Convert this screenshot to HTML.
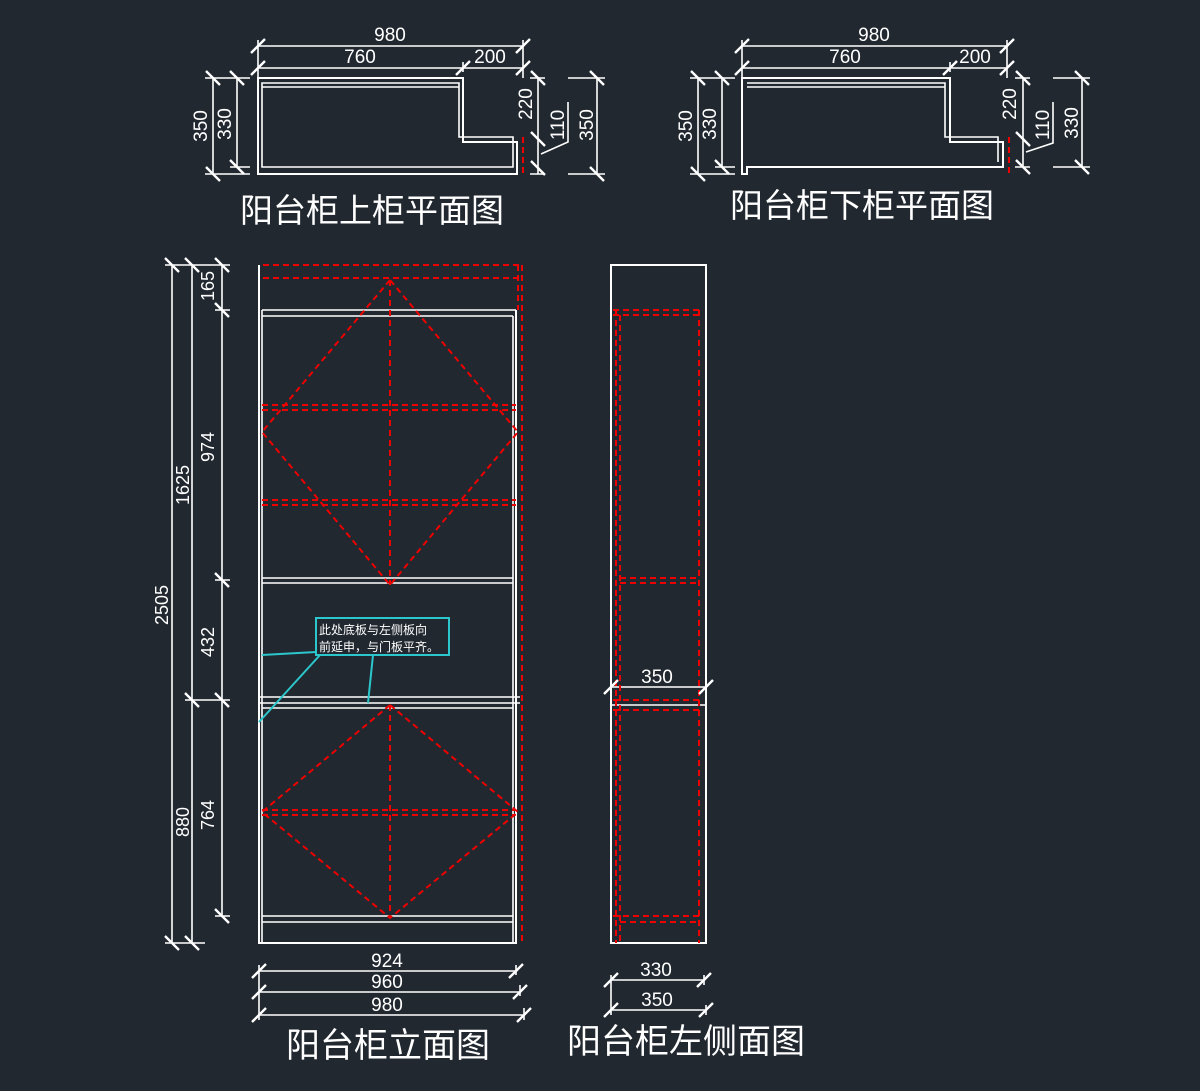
<!DOCTYPE html>
<html><head><meta charset="utf-8"><style>
html,body{margin:0;padding:0;background:#212830;}
svg{display:block}
text{font-family:"Liberation Sans","Noto Sans CJK SC",sans-serif;fill:#fff}
.w{stroke:#fff;stroke-width:2;fill:none}
.t{stroke:#fff;stroke-width:1.6;fill:none}
.k{stroke:#fff;stroke-width:2.4;fill:none}
.r{stroke:#e00;stroke-width:2;fill:none;stroke-dasharray:6 4}
.c{stroke:#2cc7cc;stroke-width:2;fill:none}
</style></head><body>
<svg width="1200" height="1091" viewBox="0 0 1200 1091">
<!-- ========== Top plan 1 ========== -->
<g>
<path class="w" d="M258 78H463V142H517V174H258Z"/>
<path class="t" d="M262 83H459V137H513V167H262Z M262 87H459"/>
<line class="r" x1="523" y1="137" x2="523" y2="174"/>
<path class="t" d="M258 46H523 M258 68H463 M463 68H523 M258 40V78 M523 40V78 M463 62V72"/>
<path class="k" d="M251 53L265 39 M516 53L530 39 M251 75L265 61 M456 75L470 61 M516 75L530 61"/>
<text x="390" y="41" font-size="19" text-anchor="middle">980</text>
<text x="360" y="63" font-size="19" text-anchor="middle">760</text>
<text x="490" y="63" font-size="19" text-anchor="middle">200</text>
<path class="t" d="M205 78H250 M205 174H250 M213 78V174 M237 78V167 M230 167H250"/>
<path class="k" d="M206 71L220 85 M206 167L220 181 M230 71L244 85 M230 160L244 174"/>
<text transform="translate(207,126) rotate(-90)" font-size="19" text-anchor="middle">350</text>
<text transform="translate(231,124) rotate(-90)" font-size="19" text-anchor="middle">330</text>
<path class="t" d="M530 78H545 M530 174H545 M538 78V174"/>
<path class="k" d="M531 71L545 85 M531 132L545 146 M531 161L545 175"/>
<path class="t" d="M568 78H605 M568 174H605 M597 78V174"/>
<path class="k" d="M590 71L604 85 M590 167L604 181"/>
<path class="t" d="M541 154L568 142V102"/>
<text transform="translate(532,104) rotate(-90)" font-size="19" text-anchor="middle">220</text>
<text transform="translate(564,125) rotate(-90)" font-size="19" text-anchor="middle">110</text>
<text transform="translate(593,125) rotate(-90)" font-size="19" text-anchor="middle">350</text>
<text x="372" y="222" font-size="33" text-anchor="middle">阳台柜上柜平面图</text>
</g>
<!-- ========== Top plan 2 ========== -->
<g>
<path class="w" d="M742 78H950V142H1003V167H747V174H742Z"/>
<path class="t" d="M747 83H945V137H998V162 M747 87H945"/>
<line class="r" x1="1009" y1="137" x2="1009" y2="174"/>
<path class="t" d="M742 46H1007 M742 68H950 M950 68H1007 M742 40V78 M1007 40V78 M950 62V72"/>
<path class="k" d="M735 53L749 39 M1000 53L1014 39 M735 75L749 61 M943 75L957 61 M1000 75L1014 61"/>
<text x="874" y="41" font-size="19" text-anchor="middle">980</text>
<text x="845" y="63" font-size="19" text-anchor="middle">760</text>
<text x="975" y="63" font-size="19" text-anchor="middle">200</text>
<path class="t" d="M690 78H735 M690 174H735 M698 78V174 M722 78V167 M715 167H735"/>
<path class="k" d="M691 71L705 85 M691 167L705 181 M715 71L729 85 M715 160L729 174"/>
<text transform="translate(692,126) rotate(-90)" font-size="19" text-anchor="middle">350</text>
<text transform="translate(716,124) rotate(-90)" font-size="19" text-anchor="middle">330</text>
<path class="t" d="M1015 78H1030 M1015 167H1030 M1023 78V167"/>
<path class="k" d="M1016 71L1030 85 M1016 132L1030 146 M1016 160L1030 174"/>
<path class="t" d="M1053 78H1090 M1053 167H1090 M1082 78V167"/>
<path class="k" d="M1075 71L1089 85 M1075 160L1089 174"/>
<path class="t" d="M1026 152L1053 143V102"/>
<text transform="translate(1016,104) rotate(-90)" font-size="19" text-anchor="middle">220</text>
<text transform="translate(1049,125) rotate(-90)" font-size="19" text-anchor="middle">110</text>
<text transform="translate(1078,123) rotate(-90)" font-size="19" text-anchor="middle">330</text>
<text x="862" y="217" font-size="33" text-anchor="middle">阳台柜下柜平面图</text>
</g>
<!-- ========== Elevation ========== -->
<g>
<path class="w" d="M259 265V943H516V310"/>
<path class="t" d="M262 310V943 M513 316V943"/>
<path class="t" d="M262 310H516 M262 316H513 M262 578H513 M262 583H513 M259 697H520 M259 703H520 M262 708H513 M262 916H513 M262 922H513"/>
<path class="r" d="M263 265H519 M263 278H519 M518 265V310 M522 265V943"/>
<path class="r" d="M390 280L262 432L390 585L518 432Z M390 280V585 M262 405H516 M262 410H516 M262 500H516 M262 505H516"/>
<path class="r" d="M390 705L262 812L390 918L518 812Z M390 705V918 M262 810H516 M262 815H516"/>
<path class="t" d="M165 265H230 M165 943H205 M172 265V943 M192 265V943 M222 265V916 M185 700H230 M215 310H230 M215 580H230 M215 916H230"/>
<path class="k" d="M165 258L179 272 M165 936L179 950 M185 258L199 272 M185 693L199 707 M185 936L199 950 M215 258L229 272 M215 303L229 317 M215 573L229 587 M215 693L229 707 M215 909L229 923"/>
<text transform="translate(168,605) rotate(-90)" font-size="18" text-anchor="middle">2505</text>
<text transform="translate(189,485) rotate(-90)" font-size="18" text-anchor="middle">1625</text>
<text transform="translate(189,822) rotate(-90)" font-size="18" text-anchor="middle">880</text>
<text transform="translate(214,286) rotate(-90)" font-size="18" text-anchor="middle">165</text>
<text transform="translate(214,447) rotate(-90)" font-size="18" text-anchor="middle">974</text>
<text transform="translate(214,642) rotate(-90)" font-size="18" text-anchor="middle">432</text>
<text transform="translate(214,815) rotate(-90)" font-size="18" text-anchor="middle">764</text>
<path class="t" d="M259 971H516 M259 992H520 M259 1015H524 M259 965V1020 M516 965V975 M520 985V996 M524 1008V1020"/>
<path class="k" d="M252 978L266 964 M509 978L523 964 M252 999L266 985 M513 999L527 985 M252 1022L266 1008 M517 1022L531 1008"/>
<text x="387" y="967" font-size="19" text-anchor="middle">924</text>
<text x="387" y="988" font-size="19" text-anchor="middle">960</text>
<text x="387" y="1011" font-size="19" text-anchor="middle">980</text>
<rect class="c" x="316" y="618" width="133" height="37"/>
<text x="319" y="634" font-size="12">此处底板与左侧板向</text>
<text x="319" y="651" font-size="12">前延申，与门板平齐。</text>
<path class="c" d="M316 652L262 655 M320 655L259 722 M373 655L368 703"/>
<text x="388" y="1057" font-size="34" text-anchor="middle">阳台柜立面图</text>
</g>
<!-- ========== Side view ========== -->
<g>
<rect class="w" x="611" y="265" width="95" height="678"/>
<path class="t" d="M611 687H706 M611 705H706"/>
<path class="r" d="M613 310H700 M613 315H700 M616 310V943 M620 315V943 M699 310V943 M620 578H700 M620 583H700 M613 700H700 M613 710H700 M613 916H700 M620 922H700"/>
<path class="k" d="M604 694L618 680 M699 694L713 680"/>
<text x="657" y="683" font-size="19" text-anchor="middle">350</text>
<path class="t" d="M611 980H704 M611 1010H706 M611 975V1015 M704 975V985 M706 1005V1015"/>
<path class="k" d="M604 987L618 973 M697 987L711 973 M604 1017L618 1003 M699 1017L713 1003"/>
<text x="656" y="976" font-size="19" text-anchor="middle">330</text>
<text x="657" y="1006" font-size="19" text-anchor="middle">350</text>
<text x="686" y="1053" font-size="34" text-anchor="middle">阳台柜左侧面图</text>
</g>
</svg>
</body></html>
